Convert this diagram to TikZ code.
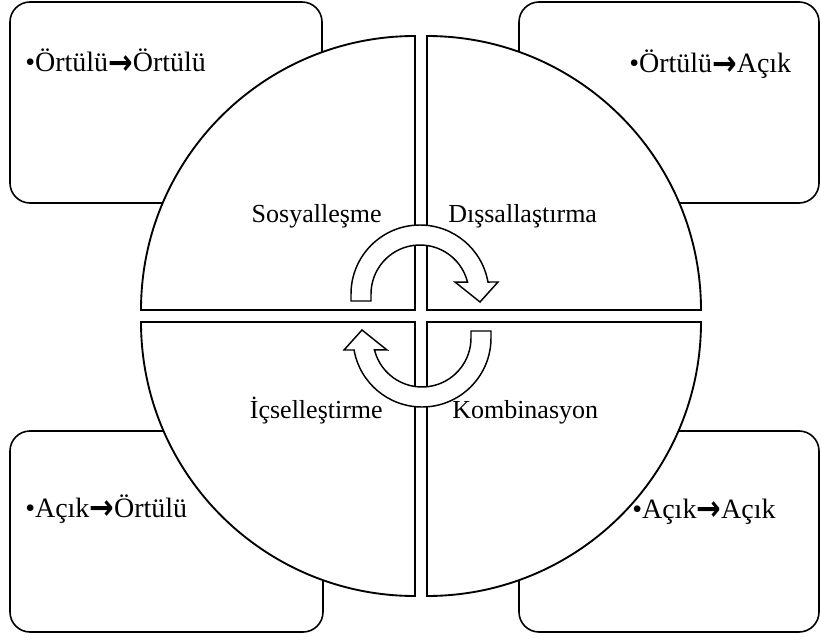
\documentclass[tikz,border=0pt]{standalone}
\usepackage{fontspec}
\setmainfont{Liberation Serif}
\newfontfamily\symfont{DejaVu Sans}
\usetikzlibrary{positioning}

\newcommand{\toarrow}{{\symfont\bfseries\raisebox{-1.5pt}{\scalebox{1.05}[1.25]{→}}}}

\begin{document}
\begin{tikzpicture}[
    x=0.75pt, y=0.75pt,
    font=\fontsize{21}{25}\selectfont,
    cornerbox/.style={
        draw=black,
        line width=1.2pt,
        rounded corners=15pt,
        minimum height=150.75pt,
        fill=white
    },
    quarter/.style={
        draw=black,
        line width=1.4pt,
        fill=white
    },
    label/.style={inner sep=0pt},
    stage/.style={inner sep=0pt, font=\fontsize{19.5}{23}\selectfont},
    turnline/.style={draw=black, line width=1.1pt, fill=white, line join=miter},
    cyclearrow/.pic={
        \path[turnline] (-69,-7) -- (-69,0)
            arc[start angle=180, end angle=10, radius=69]
            -- (78,12) -- (60,-8) -- (35,12) -- (14:49)
            arc[start angle=14, end angle=180, radius=49]
            -- (-49,-7) -- cycle;
    }
]
\useasboundingbox (0,0) rectangle (821,637);

% corner boxes
\node[cornerbox, minimum width=234pt] (tlbox) at (166,534.5) {};
\node[cornerbox, minimum width=225pt] (trbox) at (669,534.5) {};
\node[cornerbox, minimum width=234.75pt] (blbox) at (166.5,105.5) {};
\node[cornerbox, minimum width=225pt] (brbox) at (669,105.5) {};

% circle in four parts
\path[quarter] (415,327) -- ++(0,274) arc[start angle=90, end angle=180, radius=274] -- cycle;
\path[quarter] (427,327) -- ++(274,0) arc[start angle=0, end angle=90, radius=274] -- cycle;
\path[quarter] (415,315) -- ++(-274,0) arc[start angle=180, end angle=270, radius=274] -- cycle;
\path[quarter] (427,315) -- ++(0,-274) arc[start angle=270, end angle=360, radius=274] -- cycle;

% turning arrows
\pic at (420,343) {cyclearrow};
\pic[rotate=180] at (422,299) {cyclearrow};

\node[stage, anchor=base east] (sos) at (382,415) {Sosyalleşme};
\node[stage, anchor=base west] (dis) at (448,415) {Dışsallaştırma};
\node[stage, anchor=base east] (ics) at (383,219) {İçselleştirme};
\node[stage, anchor=base west] (kom) at (452,219) {Kombinasyon};

\node[label, anchor=base west] (tltext) at (25,565) {•Örtülü\toarrow Örtülü};
\node[label, anchor=base west] (trtext) at (629,564) {•Örtülü\toarrow Açık};
\node[label, anchor=base west] (bltext) at (25,120) {•Açık\toarrow Örtülü};
\node[label, anchor=base west] (brtext) at (632,119) {•Açık\toarrow Açık};

\end{tikzpicture}
\end{document}
